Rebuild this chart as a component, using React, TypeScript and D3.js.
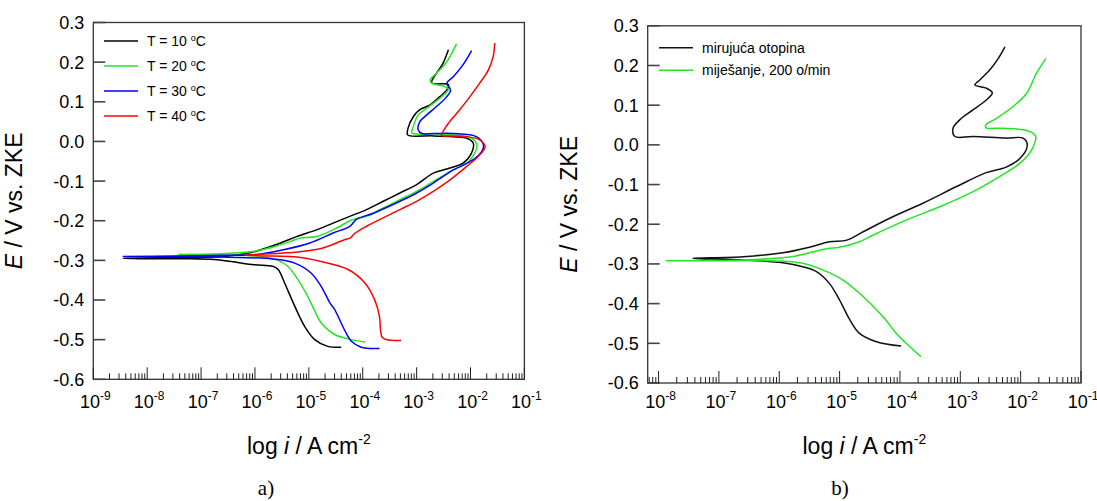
import React from 'react';
import * as d3 from 'd3';

// each point: [log10(i / A cm-2), E / V vs. ZKE]
type Pt = [number, number];

const tempLabels = ['10', '20', '30', '40'];
const tempColors = ['#000000', '#22e622', '#0000ff', '#ff0000'];

const t10: Pt[] = [
  [-4.40, -0.519], [-4.65, -0.517], [-4.89, -0.500], [-5.08, -0.466], [-5.26, -0.416], [-5.45, -0.357],
  [-5.57, -0.323], [-5.67, -0.315], [-6.01, -0.311], [-6.44, -0.303], [-6.75, -0.298], [-7.24, -0.296],
  [-7.68, -0.296], [-8.45, -0.295],
  [-7.6, -0.293], [-6.6, -0.290], [-6.09, -0.281], [-5.60, -0.260], [-5.23, -0.240], [-4.86, -0.223],
  [-4.55, -0.206], [-4.24, -0.189], [-3.93, -0.172], [-3.62, -0.151], [-3.31, -0.130], [-3.00, -0.109],
  [-2.69, -0.080], [-2.38, -0.067], [-2.14, -0.055], [-1.98, -0.029], [-1.95, -0.004], [-2.07, 0.008],
  [-2.32, 0.012], [-2.69, 0.014], [-3.12, 0.014], [-3.17, 0.017], [-3.16, 0.033], [-3.06, 0.063],
  [-2.94, 0.080], [-2.75, 0.092], [-2.57, 0.113], [-2.44, 0.130], [-2.41, 0.143], [-2.72, 0.148],
  [-2.63, 0.172], [-2.51, 0.197], [-2.41, 0.231],
];

const t20: Pt[] = [
  [-3.96, -0.506], [-4.27, -0.498], [-4.52, -0.487], [-4.77, -0.458], [-4.89, -0.428], [-5.02, -0.391],
  [-5.20, -0.349], [-5.39, -0.315], [-5.57, -0.300], [-5.88, -0.290], [-6.6, -0.287], [-7.42, -0.285],
  [-6.63, -0.283], [-6.01, -0.277], [-5.63, -0.265], [-5.26, -0.248], [-5.17, -0.244], [-4.86, -0.240],
  [-4.55, -0.223], [-4.18, -0.197], [-3.93, -0.189], [-3.62, -0.168], [-3.31, -0.147], [-3.00, -0.126],
  [-2.69, -0.101], [-2.38, -0.076], [-2.07, -0.055], [-1.92, -0.029], [-1.88, -0.009], [-1.98, 0.008],
  [-2.32, 0.017], [-3.00, 0.019], [-3.09, 0.021], [-3.06, 0.038], [-2.97, 0.067], [-2.81, 0.084],
  [-2.57, 0.109], [-2.41, 0.132], [-2.47, 0.138], [-2.72, 0.147], [-2.75, 0.155], [-2.63, 0.172],
  [-2.44, 0.201], [-2.26, 0.246],
];

const t30: Pt[] = [
  [-3.69, -0.522], [-4.03, -0.519], [-4.21, -0.504], [-4.34, -0.475], [-4.52, -0.424], [-4.61, -0.407],
  [-4.77, -0.366], [-4.96, -0.332], [-5.26, -0.307], [-5.63, -0.297], [-6.5, -0.292], [-7.5, -0.291],
  [-8.45, -0.290],
  [-7.5, -0.289], [-6.5, -0.287], [-6.01, -0.286], [-5.47, -0.273], [-4.98, -0.256], [-4.55, -0.231],
  [-4.24, -0.214], [-4.11, -0.196], [-3.80, -0.181], [-3.31, -0.151], [-3.00, -0.130], [-2.69, -0.105],
  [-2.32, -0.072], [-1.95, -0.046], [-1.79, -0.025], [-1.76, -0.009], [-1.89, 0.012], [-2.32, 0.020],
  [-2.69, 0.020], [-2.90, 0.020], [-2.97, 0.029], [-2.94, 0.050], [-2.81, 0.067], [-2.63, 0.088],
  [-2.44, 0.113], [-2.37, 0.130], [-2.44, 0.147], [-2.32, 0.163], [-2.14, 0.193], [-1.98, 0.229],
];

const t40: Pt[] = [
  [-3.29, -0.502], [-3.55, -0.500], [-3.64, -0.494], [-3.67, -0.475], [-3.69, -0.441], [-3.78, -0.399],
  [-3.96, -0.357], [-4.27, -0.323], [-4.77, -0.303], [-5.26, -0.291], [-6.2, -0.287],
  [-5.39, -0.281], [-4.77, -0.270], [-4.34, -0.248], [-4.24, -0.244], [-4.14, -0.231], [-3.93, -0.214],
  [-3.31, -0.172], [-3.00, -0.151], [-2.69, -0.126], [-2.38, -0.097], [-2.07, -0.063], [-1.86, -0.038],
  [-1.73, -0.013], [-1.83, 0.004], [-2.07, 0.012], [-2.51, 0.014], [-2.54, 0.015], [-2.51, 0.025],
  [-2.41, 0.046], [-2.20, 0.080], [-2.01, 0.113], [-1.83, 0.147], [-1.67, 0.180], [-1.58, 0.214],
  [-1.55, 0.248],
];

const flowLabels = ['mirujuća otopina', 'miješanje, 200 o/min'];
const flowColors = ['#111111', '#22e622'];

const still: Pt[] = [
  [-3.98, -0.507], [-4.39, -0.496], [-4.67, -0.475], [-4.83, -0.441], [-5.00, -0.391], [-5.17, -0.349],
  [-5.39, -0.319], [-5.61, -0.307], [-5.94, -0.297], [-6.60, -0.290], [-7.43, -0.286],
  [-6.60, -0.282], [-5.94, -0.272], [-5.50, -0.258], [-5.17, -0.244], [-4.88, -0.240], [-4.61, -0.219],
  [-4.17, -0.185], [-3.62, -0.147], [-3.06, -0.105], [-2.57, -0.070], [-2.24, -0.056], [-2.01, -0.034],
  [-1.89, 0.000], [-1.96, 0.017], [-2.24, 0.017], [-2.79, 0.021], [-3.09, 0.021], [-3.12, 0.042],
  [-3.01, 0.063], [-2.79, 0.088], [-2.57, 0.113], [-2.47, 0.131], [-2.57, 0.143], [-2.76, 0.151],
  [-2.68, 0.163], [-2.51, 0.189], [-2.37, 0.218], [-2.26, 0.247],
];

const stirred: Pt[] = [
  [-3.65, -0.534], [-3.84, -0.508], [-4.06, -0.475], [-4.28, -0.433], [-4.67, -0.374], [-4.95, -0.340],
  [-5.28, -0.315], [-5.61, -0.298], [-6.16, -0.292], [-7.0, -0.292], [-7.87, -0.292],
  [-6.60, -0.290], [-5.77, -0.281], [-5.22, -0.262], [-5.00, -0.258], [-4.67, -0.244], [-4.44, -0.227],
  [-3.89, -0.189], [-3.34, -0.156], [-2.79, -0.118], [-2.35, -0.080], [-2.01, -0.046], [-1.82, -0.013],
  [-1.75, 0.021], [-1.79, 0.029], [-1.96, 0.038], [-2.29, 0.042], [-2.57, 0.043], [-2.58, 0.050],
  [-2.40, 0.067], [-2.13, 0.096], [-1.90, 0.130], [-1.74, 0.180], [-1.58, 0.218],
];

const yTicks = [0.3, 0.2, 0.1, 0.0, -0.1, -0.2, -0.3, -0.4, -0.5, -0.6];
const decadesA = [-9, -8, -7, -6, -5, -4, -3, -2, -1];
const decadesB = [-8, -7, -6, -5, -4, -3, -2, -1];

const SANS = 'Liberation Sans, Arial, sans-serif';

type Series = { name: string; color: string; pts: Pt[]; degree?: boolean };

function Panel(props: {
  left: number; right: number; top: number; bottom: number;
  logMin: number; decades: number[]; series: Series[];
  legendX: number; legendY: number; legendGap: number; legendSize: number;
  tag: string; tagX: number;
}) {
  const { left, right, top, bottom, logMin, decades, series } = props;
  const x = d3.scaleLog().domain([10 ** logMin, 1e-1]).range([left, right]);
  const y = d3.scaleLinear().domain([-0.6, 0.3]).range([bottom, top]);
  const line = d3.line<Pt>()
    .x(d => x(10 ** d[0]))
    .y(d => y(d[1]))
    .curve(d3.curveCatmullRom.alpha(0.5));

  const minor: number[] = [];
  for (let d = Math.floor(logMin); d < -1; d++) {
    for (let m = 2; m <= 9; m++) {
      const v = m * 10 ** d;
      if (v > 10 ** logMin && v < 1e-1) minor.push(v);
    }
  }
  const cx = (left + right) / 2;
  const cy = (top + bottom) / 2;

  return (
    <g fontFamily={SANS}>
      {series.map(s => (
        <path key={s.name} d={line(s.pts) || ''} fill="none" stroke={s.color} strokeWidth={1.5} strokeLinejoin="round" />
      ))}
      <rect x={left} y={top} width={right - left} height={bottom - top} fill="none" stroke="#333" strokeWidth={1.3} />
      {yTicks.map(t => (
        <g key={t}>
          <line x1={left} x2={left + 12} y1={y(t)} y2={y(t)} stroke="#444" strokeWidth={1.6} />
          <text x={left - 9} y={y(t)} dy="0.36em" textAnchor="end" fontSize={18} fill="#000">
            {t.toFixed(1)}
          </text>
        </g>
      ))}
      {minor.map(v => (
        <line key={v} x1={x(v)} x2={x(v)} y1={bottom} y2={bottom - 6} stroke="#222" strokeWidth={1} />
      ))}
      {decades.map(d => (
        <g key={d}>
          <line x1={x(10 ** d)} x2={x(10 ** d)} y1={bottom} y2={bottom - 12} stroke="#222" strokeWidth={1} />
          <text x={x(10 ** d) + 2} y={408} textAnchor="middle" fontSize={18} fill="#000">
            10<tspan dy={-8} fontSize={12}>{String(d)}</tspan>
          </text>
        </g>
      ))}
      <text x={cx} y={454} textAnchor="middle" fontSize={23} fill="#000">
        log <tspan fontStyle="italic">i</tspan> / A cm<tspan dy={-10} fontSize={14}>-2</tspan>
      </text>
      <text transform={`translate(${left - 71},${cy}) rotate(-90)`} textAnchor="middle" fontSize={23} fill="#000">
        <tspan fontStyle="italic">E</tspan> / V vs. ZKE
      </text>
      {series.map((s, i) => {
        const ly = props.legendY + i * props.legendGap;
        return (
          <g key={'lg' + s.name}>
            <line x1={props.legendX} x2={props.legendX + 34} y1={ly} y2={ly} stroke={s.color} strokeWidth={1.5} />
            <text x={props.legendX + 43} y={ly + 5} fontSize={props.legendSize} fill="#000">
              {s.degree ? (
                <>
                  {'T = ' + s.name + ' '}
                  <tspan dy={-5} fontSize={9}>o</tspan>
                  <tspan dy={5}>C</tspan>
                </>
              ) : s.name}
            </text>
          </g>
        );
      })}
      <text x={props.tagX} y={495} textAnchor="middle" fontSize={21} fontFamily="Liberation Serif, Times New Roman, serif" fill="#000">
        {props.tag}
      </text>
    </g>
  );
}

export default function App() {
  const tempSeries: Series[] = [t10, t20, t30, t40].map((pts, i) => ({
    name: tempLabels[i], color: tempColors[i], pts, degree: true,
  }));
  const flowSeries: Series[] = [still, stirred].map((pts, i) => ({
    name: flowLabels[i], color: flowColors[i], pts,
  }));
  return (
    <svg width={1097} height={501} style={{ position: 'absolute', left: 0, top: 0, background: '#fff' }}>
      <rect width={1097} height={501} fill="#fff" />
      <Panel left={93.3} right={524.4} top={22.5} bottom={379.3} logMin={-9} decades={decadesA}
        series={tempSeries} legendX={104} legendY={41} legendGap={25} legendSize={14} tag="a)" tagX={266} />
      <Panel left={647.7} right={1081} top={25.8} bottom={383} logMin={-8.18} decades={decadesB}
        series={flowSeries} legendX={659} legendY={47.7} legendGap={22.5} legendSize={14} tag="b)" tagX={840} />
    </svg>
  );
}
